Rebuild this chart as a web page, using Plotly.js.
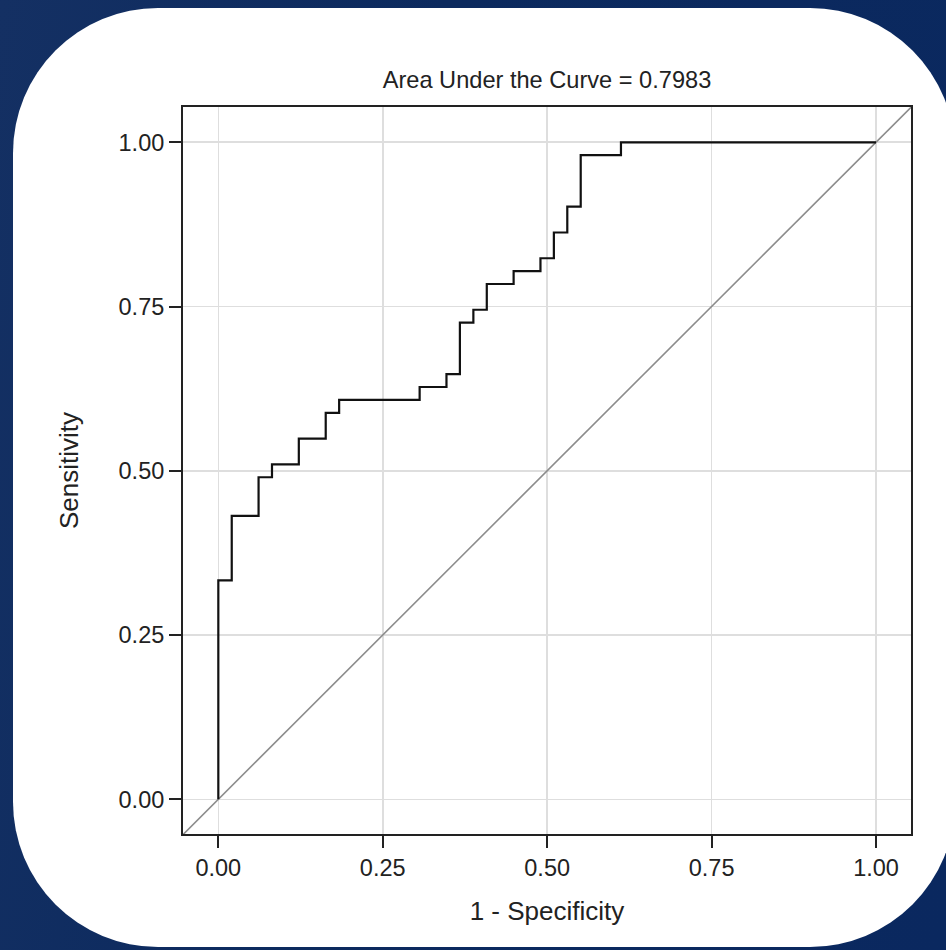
<!DOCTYPE html>
<html>
<head>
<meta charset="utf-8">
<script src="https://cdn.plot.ly/plotly-3.0.1.min.js"></script>
<style>
  html, body { margin: 0; padding: 0; width: 946px; height: 950px; overflow: hidden; }
  body { background: linear-gradient(100deg, #143063 0%, #0c2a5e 40%, #0a285f 100%); position: relative; }
  #card { position: absolute; left: 13px; top: 8px; width: 942px; height: 939px; border-radius: 145px; background: #ffffff; }
  #chart { position: absolute; left: 0; top: 0; width: 946px; height: 950px; }
</style>
</head>
<body>
<div id="card"></div>
<div id="chart"></div>
<script>
// ROC curve points (1 - Specificity, Sensitivity)
const fpr = [0, 0, 0.0204, 0.0612, 0.0816, 0.1224, 0.1633, 0.1837, 0.3061, 0.3469, 0.3673, 0.3878, 0.4082, 0.4490, 0.4898, 0.5102, 0.5306, 0.5510, 0.6122, 1.0];
const tpr = [0, 0.3333, 0.4314, 0.4902, 0.5098, 0.5490, 0.5882, 0.6078, 0.6275, 0.6471, 0.7255, 0.7451, 0.7843, 0.8039, 0.8235, 0.8627, 0.9020, 0.9804, 1.0, 1.0];
// reference (chance) diagonal
const diagX = [-0.1, 1.1];
const diagY = [-0.1, 1.1];
// tick values and labels
const tickVals = [0, 0.25, 0.5, 0.75, 1];
const tickText = ["0.00", "0.25", "0.50", "0.75", "1.00"];
const chartTitle = "Area Under the Curve = 0.7983";
const xTitle = "1 - Specificity";
const yTitle = "Sensitivity";

const font = "Liberation Sans, Arial, sans-serif";

const traces = [
  { x: diagX, y: diagY, mode: "lines", line: { color: "#8c8c8c", width: 1.6 }, hoverinfo: "skip", showlegend: false },
  { x: fpr, y: tpr, mode: "lines", line: { color: "#111111", width: 2.2, shape: "hv" }, showlegend: false }
];

const axisCommon = {
  tickvals: tickVals,
  ticktext: tickText,
  ticks: "outside",
  ticklen: 12,
  tickwidth: 2,
  tickcolor: "#222",
  showline: true,
  linecolor: "#222",
  linewidth: 2,
  mirror: true,
  showgrid: true,
  gridcolor: "#dedede",
  gridwidth: 1.6,
  zeroline: false,
  tickfont: { family: font, size: 23.5, color: "#222" }
};

const layout = {
  width: 946,
  height: 950,
  margin: { l: 183, r: 35, t: 107, b: 116 },
  paper_bgcolor: "rgba(0,0,0,0)",
  plot_bgcolor: "#ffffff",
  showlegend: false,
  title: {
    text: chartTitle,
    font: { family: font, size: 23.6, color: "#222" },
    x: 0.5, xref: "paper", xanchor: "center",
    y: 1, yref: "paper", yanchor: "bottom",
    pad: { b: 19 }
  },
  xaxis: Object.assign({}, axisCommon, {
    range: [-0.0537, 1.0532],
    title: { text: xTitle, font: { family: font, size: 26, color: "#222" }, standoff: 22 }
  }),
  yaxis: Object.assign({}, axisCommon, {
    range: [-0.0528, 1.0537],
    title: { text: yTitle, font: { family: font, size: 26, color: "#222" }, standoff: 32 }
  })
};

Plotly.newPlot("chart", traces, layout, { displayModeBar: false, staticPlot: true });
</script>
</body>
</html>
